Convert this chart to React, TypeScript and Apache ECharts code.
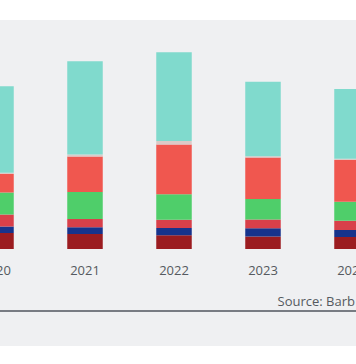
import React, { useEffect, useRef } from "react";
import * as echarts from "echarts";

const years = ["2020", "2021", "2022", "2023", "2024"];
const seriesNames = ["Segment 1", "Segment 2", "Segment 3", "Segment 4", "Segment 5", "Segment 6", "Segment 7"];
const seriesColors = ["#9b1c20", "#17338c", "#d8404a", "#4fce6a", "#f0574f", "#dccac7", "#80dacd"];
const seg1 = [16, 15, 13.8, 12.5, 12];
const seg2 = [6.5, 6.7, 7.2, 8.3, 7];
const seg3 = [12, 8.3, 8.3, 8.7, 9.3];
const seg4 = [22, 27, 25.4, 20.5, 19];
const seg5 = [18.5, 35.5, 49.8, 41.5, 41.7];
const seg6 = [1.3, 2, 3.5, 1.3, 1.3];
const seg7 = [86.5, 93.2, 88.7, 74.5, 69.7];
const seriesValues = [seg1, seg2, seg3, seg4, seg5, seg6, seg7];
const sourceText = "Source: Barb";

const OFFSET = 60;
const CHART_W = 476;

export default function App() {
  const ref = useRef<HTMLDivElement>(null);
  useEffect(() => {
    if (!ref.current) return;
    const chart = echarts.init(ref.current, null, { renderer: "svg" });
    chart.setOption({
      animation: false,
      backgroundColor: "transparent",
      grid: { left: 11.5, width: 445, top: 49, height: 200 },
      xAxis: {
        type: "category",
        data: years,
        axisLine: { show: false },
        axisTick: { show: false },
        axisLabel: {
          color: "#555a60",
          fontFamily: "Open Sans",
          fontSize: 13,
          margin: 14,
          interval: 0,
        },
      },
      yAxis: {
        type: "value",
        min: 0,
        max: 200,
        show: false,
        splitLine: { show: false },
      },
      series: seriesNames.map((name, i) => ({
        name,
        type: "bar",
        stack: "total",
        barWidth: 35.5,
        data: seriesValues[i],
        itemStyle: { color: seriesColors[i] },
      })),
      graphic: [
        {
          type: "line",
          shape: { x1: OFFSET, y1: 311, x2: OFFSET + 356, y2: 311 },
          style: { stroke: "#50565e", lineWidth: 1.5 },
        },
        {
          type: "text",
          x: OFFSET + 355,
          y: 301,
          style: {
            text: sourceText,
            fill: "#555a60",
            font: "13px 'Open Sans'",
            align: "right",
            verticalAlign: "middle",
          },
        },
      ],
    });
    return () => chart.dispose();
  }, []);
  return (
    <div
      style={{
        position: "fixed",
        left: 0,
        top: 0,
        width: 356,
        height: 364,
        overflow: "hidden",
        background: "#ffffff",
      }}
    >
      <div
        style={{
          position: "absolute",
          left: 0,
          top: 20,
          width: 356,
          height: 326,
          background: "#eff0f2",
        }}
      />
      <div
        ref={ref}
        style={{ position: "absolute", left: -OFFSET, top: 0, width: CHART_W, height: 364 }}
      />
    </div>
  );
}
